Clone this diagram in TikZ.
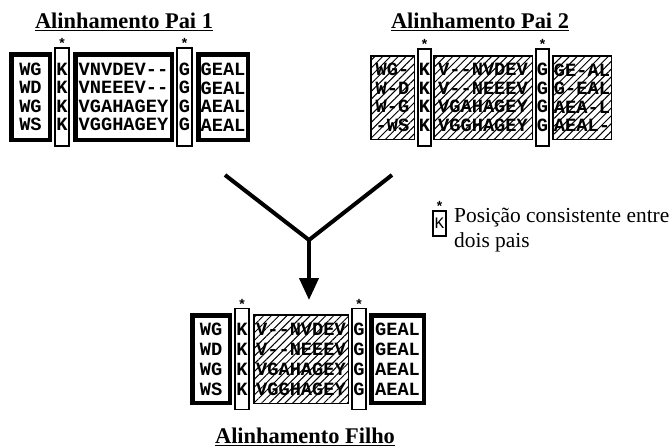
\documentclass[tikz,border=0pt]{standalone}
\usepackage{fontspec}
\setmainfont{Liberation Serif}
\newfontfamily\seqfont{Liberation Mono}
\usetikzlibrary{arrows.meta,positioning,patterns.meta}
\tikzset{
  parentrows/.style={font=\seqfont\bfseries\fontsize{18.7}{18.5}\selectfont},
  childrows/.style={font=\seqfont\bfseries\fontsize{18.7}{20}\selectfont},
  heavybox/.style={draw, line width=4.5pt, fill=white, inner sep=0pt, align=center},
  hatchbox/.style={draw, line width=1.5pt, inner sep=0pt, align=center,
    pattern={Lines[angle=45,distance=5.5pt,line width=1pt]}},
  colbox/.style={draw, line width=1.8pt, fill=white, inner sep=0pt, align=center},
  starmark/.style={font=\seqfont\bfseries\fontsize{14}{14}\selectfont, inner sep=0pt},
  paneltitle/.style={font=\bfseries\fontsize{22.4}{24}\selectfont, inner sep=0pt},
  legendtext/.style={font=\fontsize{21.4}{25}\selectfont, inner sep=0pt, align=left},
  merge/.style={line width=4pt, line join=miter},
}
\begin{document}
\begin{tikzpicture}[x=1pt, y=-1pt]
  \useasboundingbox (0,0) rectangle (671,447);
  % parent 1
  \node[paneltitle] (titlePai1) at (124,22) {\underline{Alinhamento Pai 1}};
  \node[heavybox, parentrows, minimum width=38.5, minimum height=85.5] (p1a) at (30.5,97) {WG\\WD\\WG\\WS};
  \node[colbox, parentrows, minimum width=14, minimum height=98] (p1k) at (62,97) {K\\K\\K\\K};
  \node[heavybox, parentrows, minimum width=96.5, minimum height=85.5] (p1b) at (123.5,97)
    {VNVDEV-{}-\\VNEEEV-{}-\\VGAHAGEY\\VGGHAGEY};
  \node[colbox, parentrows, minimum width=15, minimum height=98] (p1g) at (184.5,97) {G\\G\\G\\G};
  \node[heavybox, parentrows, minimum width=49.5, minimum height=85.5] (p1c) at (223,97) {GEAL\\GEAL\\AEAL\\AEAL};
  \node[starmark, above=-2pt of p1k] (p1kStar) {*};
  \node[starmark, above=-2pt of p1g] (p1gStar) {*};
  % parent 2
  \node[paneltitle] (titlePai2) at (480,22) {\underline{Alinhamento Pai 2}};
  \node[hatchbox, parentrows, minimum width=43.5, minimum height=83.5] (p2a) at (392.5,97.5) {WG-\\W-D\\W-G\\-WS};
  \node[colbox, parentrows, minimum width=13, minimum height=97] (p2k) at (424.5,97.5) {K\\K\\K\\K};
  \node[hatchbox, parentrows, minimum width=98.5, minimum height=83.5] (p2b) at (483,97.5)
    {V-{}-NVDEV\\V-{}-NEEEV\\VGAHAGEY\\VGGHAGEY};
  \node[colbox, parentrows, minimum width=13, minimum height=97] (p2g) at (542.5,97.5) {G\\G\\G\\G};
  \node[hatchbox, parentrows, minimum width=58.5, minimum height=83.5] (p2c) at (582,97.5) {GE-AL\\G-EAL\\AEA-L\\AEAL-};
  \node[starmark, above=-2pt of p2k] (p2kStar) {*};
  \node[starmark, above=-2pt of p2g] (p2gStar) {*};
  % crossover
  \coordinate (armL) at (225,175);
  \coordinate (armR) at (392,175);
  \coordinate (fork) at (309,240);
  \coordinate (mergeEnd) at (309,300);
  \draw[merge] (armL) -- (fork) -- (armR);
  \draw[merge, -{Triangle[length=22pt,width=19pt]}] (fork) -- (mergeEnd);
  % key
  \node[colbox, font=\seqfont\fontsize{16}{16}\selectfont, minimum width=13, minimum height=25] (keyK) at (439.5,223.5) {K};
  \node[starmark, above=-2pt of keyK] (keyStar) {*};
  \node[legendtext, anchor=west] (keyText) at (454,230.5) {Posição consistente entre\\dois pais};
  % child
  \node[heavybox, childrows, minimum width=37.5, minimum height=87.5] (cha) at (211,359) {WG\\WD\\WG\\WS};
  \node[colbox, childrows, minimum width=14, minimum height=101] (chk) at (242,359) {K\\K\\K\\K};
  \node[hatchbox, childrows, minimum width=94.5, minimum height=88.5] (chb) at (301,359)
    {V-{}-NVDEV\\V-{}-NEEEV\\VGAHAGEY\\VGGHAGEY};
  \node[colbox, childrows, minimum width=14, minimum height=101] (chg) at (359,359) {G\\G\\G\\G};
  \node[heavybox, childrows, minimum width=52.5, minimum height=87.5] (chc) at (397.5,359) {GEAL\\GEAL\\AEAL\\AEAL};
  \node[starmark, above=-2pt of chk] (chkStar) {*};
  \node[starmark, above=-2pt of chg] (chgStar) {*};
  \node[paneltitle] (titleFilho) at (305,437) {\underline{Alinhamento Filho}};
\end{tikzpicture}
\end{document}
